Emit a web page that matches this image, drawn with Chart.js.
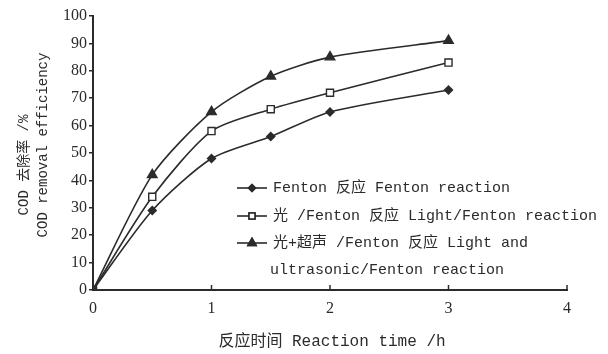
<!DOCTYPE html>
<html>
<head>
<meta charset="utf-8">
<script src="https://cdn.jsdelivr.net/npm/chart.js@4/dist/chart.umd.min.js"></script>
<style>
  html, body { margin: 0; padding: 0; background: #fff; }
  #wrap { width: 608px; height: 354px; }
</style>
</head>
<body>
<div id="wrap"><canvas id="c" width="608" height="354"></canvas></div>
<script>
// Reaction time (h)
const times = [0, 0.5, 1, 1.5, 2, 3];
// COD removal efficiency (%)
const fenton = [0, 29, 48, 56, 65, 73];
const lightFenton = [0, 34, 58, 66, 72, 83];
const lightUltraFenton = [0, 42, 65, 78, 85, 91];

const xTicks = [0, 1, 2, 3, 4];
const yTicks = [0, 10, 20, 30, 40, 50, 60, 70, 80, 90, 100];

const legendLabels = [
  ['Fenton 反应 Fenton reaction'],
  ['光 /Fenton 反应 Light/Fenton reaction'],
  ['光+超声 /Fenton 反应 Light and', 'ultrasonic/Fenton reaction']
];
const yTitle = ['COD 去除率 /%', 'COD removal efficiency'];
const xTitle = '反应时间 Reaction time /h';

const INK = '#2b2b2b';
const MONO = "'Liberation Mono', 'Noto Sans CJK SC', monospace";

function pts(vals) { return times.map((t, i) => ({ x: t, y: vals[i] })); }

const styles = [
  { pointStyle: 'rectRot', radius: 4, fill: INK },
  { pointStyle: 'rect', radius: 5, fill: '#ffffff' },
  { pointStyle: 'triangle', radius: 5.5, fill: INK }
];

const datasets = [fenton, lightFenton, lightUltraFenton].map((v, i) => ({
  label: legendLabels[i].join(' '),
  data: pts(v),
  borderColor: INK,
  borderWidth: 1.6,
  backgroundColor: styles[i].fill,
  pointStyle: styles[i].pointStyle,
  pointRadius: styles[i].radius,
  pointBorderColor: INK,
  pointBorderWidth: 1.4,
  pointBackgroundColor: styles[i].fill,
  tension: 0.25,
  fill: false
}));

// Legend, axis titles and the inward x ticks
const decor = {
  id: 'decor',
  afterDraw(chart) {
    const ctx = chart.ctx;
    const xs = chart.scales.x, ys = chart.scales.y;
    ctx.save();
    // inward tick marks on the x axis
    ctx.strokeStyle = INK;
    ctx.lineWidth = 1.5;
    xTicks.forEach(v => {
      if (v === 0) return;
      const px = xs.getPixelForValue(v);
      ctx.beginPath();
      ctx.moveTo(px, ys.bottom);
      ctx.lineTo(px, ys.bottom - 5);
      ctx.stroke();
    });

    // legend
    ctx.fillStyle = INK;
    ctx.font = '15px ' + MONO;
    ctx.textBaseline = 'middle';
    const rows = [188, 216, 243];
    const lx0 = 237, lx1 = 267, tx = 273;
    datasets.forEach((ds, i) => {
      const y = rows[i];
      ctx.strokeStyle = INK;
      ctx.lineWidth = 1.6;
      ctx.beginPath();
      ctx.moveTo(lx0, y);
      ctx.lineTo(lx1, y);
      ctx.stroke();
      Chart.helpers.drawPoint(ctx, {
        pointStyle: ds.pointStyle,
        radius: ds.pointRadius * 0.85,
        rotation: 0,
        borderWidth: 1.4
      }, (lx0 + lx1) / 2, y);
      ctx.fillStyle = ds.pointBackgroundColor;
      ctx.fill();
      ctx.strokeStyle = INK;
      ctx.stroke();
      ctx.fillStyle = INK;
      legendLabels[i].forEach((t, k) => {
        ctx.fillText(t, k === 0 ? tx : 270, y + k * 27);
      });
    });

    // x axis title
    ctx.font = '16px ' + MONO;
    ctx.textAlign = 'center';
    ctx.fillText(xTitle, 332, 342);

    // y axis title (two rotated lines)
    ctx.font = '14px ' + MONO;
    [[24, 165], [43, 145]].forEach(([x, y], k) => {
      ctx.save();
      ctx.translate(x, y);
      ctx.rotate(-Math.PI / 2);
      ctx.fillText(yTitle[k], 0, 0);
      ctx.restore();
    });
    ctx.restore();
  }
};

new Chart(document.getElementById('c'), {
  type: 'line',
  data: { datasets },
  options: {
    responsive: false,
    animation: false,
    layout: { padding: { top: 16, right: 41, left: 0, bottom: 0 } },
    plugins: { legend: { display: false }, tooltip: { enabled: false } },
    scales: {
      x: {
        type: 'linear',
        min: 0, max: 4,
        afterBuildTicks: s => { s.ticks = xTicks.map(v => ({ value: v })); },
        afterFit: s => { s.height = 64; },
        grid: { drawOnChartArea: false, drawTicks: false },
        border: { color: INK, width: 2 },
        ticks: {
          color: INK, padding: 9,
          font: { family: "'Liberation Serif', serif", size: 16 }
        }
      },
      y: {
        min: 0, max: 100,
        afterBuildTicks: s => { s.ticks = yTicks.map(v => ({ value: v })); },
        afterFit: s => { s.width = 93; },
        grid: { drawOnChartArea: false, drawTicks: true, tickLength: 4, color: INK, lineWidth: 1.5 },
        border: { color: INK, width: 2 },
        ticks: {
          color: INK, padding: 2,
          font: { family: "'Liberation Serif', serif", size: 16 }
        }
      }
    }
  },
  plugins: [decor]
});
</script>
</body>
</html>
